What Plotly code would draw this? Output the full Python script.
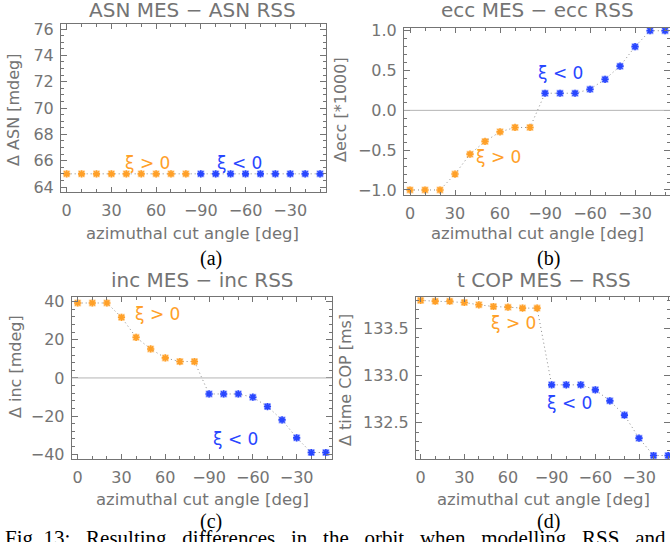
import plotly.graph_objects as go

# ---- data ----
angle_pos = [0, 10, 20, 30, 40, 50, 60, 70, 80]            # xi > 0
angle_neg = [-90, -80, -70, -60, -50, -40, -30, -20, -10]  # xi < 0
x_index = [a for a in angle_pos] + [a + 180 for a in angle_neg]  # continuous axis position
tick_vals = [0, 30, 60, 90, 120, 150]
tick_text = ["0", "30", "60", "\u221290", "\u221260", "\u221230"]

asn = [65.0] * 18
ecc = [-1.0, -1.0, -1.0, -0.80, -0.55, -0.39, -0.27, -0.215, -0.215,
       0.215, 0.215, 0.215, 0.265, 0.39, 0.555, 0.80, 1.0, 1.0]
inc = [39.3, 39.3, 39.3, 31.8, 21.3, 15.2, 10.5, 8.6, 8.6,
       -8.4, -8.4, -8.4, -10.1, -15.0, -22.0, -31.4, -39.1, -39.1]
tcop = [133.795, 133.788, 133.788, 133.774, 133.749, 133.731, 133.724, 133.714, 133.714,
        132.901, 132.901, 132.901, 132.848, 132.731, 132.580, 132.336, 132.152, 132.152]

titles = ["ASN MES \u2212 ASN RSS", "ecc MES \u2212 ecc RSS",
          "inc MES \u2212 inc RSS", "t COP MES \u2212 RSS"]
ytitles = ["\u0394 ASN [mdeg]", "\u0394ecc [*1000]", "\u0394 inc [mdeg]", "\u0394 time COP [ms]"]
xtitle = "azimuthal cut angle [deg]"
panel_labels = ["(a)", "(b)", "(c)", "(d)"]
caption_words = ["Fig.", "13:", "Resulting", "differences", "in", "the", "orbit",
                 "when", "modelling", "RSS", "and"]

ORANGE = "#FFA028"
BLUE = "#2846FF"
GRAY = "#747474"
W, H = 670, 542
FONT = "DejaVu Sans"


def px_x(p):
    return p / W


def px_y(p):
    return 1 - p / H


# panel boxes in pixels: (left, right, top, bottom)
boxes = [(61, 326, 24, 192), (404, 670, 27.7, 195),
         (71.7, 331.7, 296.7, 459), (416, 670, 296.7, 459)]
xranges = [[-3.8, 174], [-4, 173.3], [-4.1, 174], [-3.2, 171.3]]
yranges = [[63.62, 76.38], [-1.063, 1.038], [-42.5, 42.6], [132.115, 133.835]]
ydticks = [2, 0.5, 20, 0.5]
yminor = [0.5, 0.1, 4, 0.1]
zero_line = [False, True, True, False]
series = [asn, ecc, inc, tcop]

title_pos = [(193, 9.5), (537, 9.5), (202, 280), (544, 280)]
xtitle_pos = [(193, 233), (537, 233), (202, 499), (543, 499)]
ytitle_pos = [(13, 110), (340, 110), (15, 367), (345, 380)]
xi_pos = [((147, 163), (239, 163)), ((498, 157), (560, 73)),
          ((157, 314), (235, 439)), ((513, 323), (569, 403))]
caption_pos = [(211, 258), (548, 258), (211, 521), (548, 521)]

fig = go.Figure()
annotations = []
shapes = []


def ann(text, x, y, size, color, family=FONT, angle=0, xanchor="center"):
    return dict(text=text, xref="paper", yref="paper", x=px_x(x), y=px_y(y),
                xanchor=xanchor, yanchor="middle", showarrow=False, textangle=angle,
                font=dict(family=family, size=size, color=color))


for i in range(4):
    k = "" if i == 0 else str(i + 1)
    xa, ya = "x" + k, "y" + k
    L, R, T, B = boxes[i]
    y = series[i]
    fig.add_trace(go.Scatter(x=x_index, y=y, xaxis=xa, yaxis=ya, mode="lines",
                             line=dict(color="#8a8a8a", width=1, dash="1px,3px"),
                             showlegend=False, hoverinfo="skip"))
    colors = [ORANGE] * 9 + [BLUE] * 9
    fig.add_trace(go.Scatter(x=x_index, y=y, xaxis=xa, yaxis=ya, mode="markers",
                             marker=dict(symbol="square", size=7, color=colors, opacity=0.4),
                             showlegend=False, hoverinfo="skip"))
    fig.add_trace(go.Scatter(x=x_index, y=y, xaxis=xa, yaxis=ya, mode="markers",
                             marker=dict(symbol="asterisk-open", size=6, color=colors,
                                         line=dict(color=colors, width=1.6)),
                             showlegend=False))
    axcommon = dict(showgrid=False, zeroline=False, showline=True, linecolor=GRAY,
                    linewidth=1, mirror="allticks", ticks="inside", tickcolor=GRAY,
                    automargin=False,
                    tickfont=dict(family=FONT, size=16, color=GRAY))
    fig.layout["xaxis" + k] = dict(
        axcommon, domain=[px_x(L), px_x(R)], range=xranges[i], anchor=ya,
        tickvals=tick_vals, ticktext=tick_text, ticklen=5, ticklabelstandoff=4,
        minor=dict(ticks="inside", dtick=10, tick0=0, ticklen=3, tickcolor=GRAY))
    fig.layout["yaxis" + k] = dict(
        axcommon, domain=[px_y(B), px_y(T)], range=yranges[i], anchor=xa,
        dtick=ydticks[i], ticklen=6, ticklabelstandoff=3,
        tickformat=".1f" if i in (1, 3) else "d",
        minor=dict(ticks="inside", dtick=yminor[i], ticklen=3, tickcolor=GRAY))
    if zero_line[i]:
        shapes.append(dict(type="line", xref=xa + " domain", yref=ya, x0=0, x1=1,
                           y0=0, y1=0, line=dict(color="#b4b4b4", width=1)))
    annotations.append(ann(titles[i], *title_pos[i], 20, GRAY))
    annotations.append(ann(xtitle, *xtitle_pos[i], 16.5, GRAY))
    annotations.append(ann(ytitles[i], *ytitle_pos[i], 16, GRAY, angle=-90))
    (ox, oy), (bx, by) = xi_pos[i]
    annotations.append(ann("\u03be > 0", ox, oy, 17, ORANGE))
    annotations.append(ann("\u03be < 0", bx, by, 17, BLUE))
    cx, cy = caption_pos[i]
    annotations.append(ann(panel_labels[i], cx, cy, 20, "black", family="Liberation Serif"))

caption = "Fig.\u00a013:\u00a0\u00a0\u00a0" + "\u00a0\u00a0\u00a0".join(caption_words[2:])
annotations.append(dict(text=caption, xref="paper", yref="paper", x=px_x(3), y=px_y(524),
                        xanchor="left", yanchor="top", showarrow=False,
                        font=dict(family="Liberation Serif", size=21, color="black")))

fig.update_layout(width=W, height=H, margin=dict(l=0, r=0, t=0, b=0),
                  paper_bgcolor="white", plot_bgcolor="white",
                  annotations=annotations, shapes=shapes, showlegend=False)

fig.write_html("out.html", config={"displayModeBar": False},
               post_script="document.body.style.margin='0';")
